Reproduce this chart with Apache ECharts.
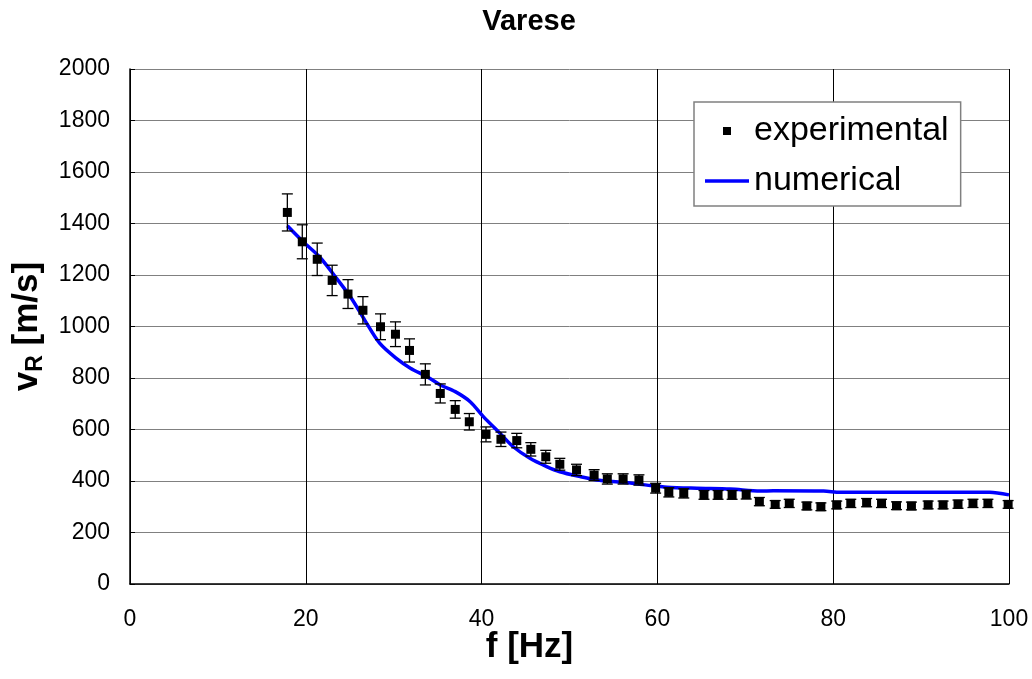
<!DOCTYPE html>
<html>
<head>
<meta charset="utf-8">
<script src="https://cdn.jsdelivr.net/npm/echarts@6/dist/echarts.min.js"></script>
<style>html,body{margin:0;padding:0;background:#fff}#c{width:1032px;height:679px}</style>
</head>
<body>
<div id="c"></div>
<script>
// Experimental points: frequency [Hz], velocity [m/s], error half-width [m/s]
var expF = [17.9,19.6,21.3,23.0,24.8,26.5,28.5,30.2,31.8,33.6,35.3,37.0,38.6,40.5,42.2,44.0,45.6,47.3,48.9,50.8,52.8,54.3,56.1,57.9,59.8,61.3,63.0,65.3,66.9,68.5,70.1,71.6,73.4,75.0,77.0,78.6,80.4,82.0,83.8,85.5,87.2,88.9,90.8,92.5,94.2,95.9,97.6,99.9];
var expV = [1443,1329,1261,1179,1126,1063,999,970,907,814,740,678,630,581,562,557,523,494,465,443,423,408,408,404,372,356,352,346,346,346,347,320,309,313,303,300,307,313,316,313,304,303,307,307,310,313,313,309];
var expErr = [72,66,63,59,56,53,50,48,45,41,37,34,32,29,28,28,26,25,23,22,21,20,20,20,19,18,18,17,17,17,17,16,15,16,15,15,15,16,16,16,15,15,15,15,16,16,16,15];
// Numerical curve
var numF = [17.9,19.7,21.6,23.5,25.2,26.7,28.4,30.3,31.9,33.8,35.3,37.0,38.7,40.2,42.1,43.6,45.5,47.4,48.9,51.2,53.1,56.1,58.8,61.1,64.5,68.3,71.7,73.2,78.9,80.8,88.4,97.8,100];
var numV = [1391,1329,1269,1187,1109,1025,935,876,838,805,773,747,708,650,585,533,488,456,436,417,404,395,384,376,372,369,361,362,361,356,356,356,346];
var xTicks = [0,20,40,60,80,100];
var yTicks = [0,200,400,600,800,1000,1200,1400,1600,1800,2000];

var FONT = "'Liberation Sans', Arial, Helvetica, sans-serif";
var expData = expF.map(function(f,i){return [f, expV[i]];});
var errData = expF.map(function(f,i){return [f, expV[i]-expErr[i], expV[i]+expErr[i]];});
var numData = numF.map(function(f,i){return [f, numV[i]];});

var chart = echarts.init(document.getElementById('c'), null, {renderer:'canvas'});
chart.setOption({
  animation: false,
  backgroundColor: '#ffffff',
  textStyle: {fontFamily: FONT},
  title: {
    text: 'Varese', left: 529, top: 7, textAlign: 'center', padding: 0,
    textStyle: {fontSize: 29, fontWeight: 'bold', color: '#000', fontFamily: FONT}
  },
  grid: {left: 130, right: 23, top: 69, bottom: 95, containLabel: false},
  legend: {
    orient: 'vertical', left: 694, top: 102,
    padding: [9, 12, 5, 11],
    backgroundColor: '#fff', borderColor: '#808080', borderWidth: 1.5, borderRadius: 0,
    itemWidth: 44, itemHeight: 16, itemGap: 10,
    textStyle: {fontSize: 34, color: '#000', fontFamily: FONT, lineHeight: 40},
    data: [
      {name: 'experimental', icon: 'path://M0,0M44,16M18,4h8v8h-8z', itemStyle: {color: '#000', opacity: 1}},
      {name: 'numerical', icon: 'path://M0,0M44,16M0,6.3h44v3.4h-44z', itemStyle: {color: '#0000ff'}}
    ]
  },
  xAxis: {
    type: 'value', min: xTicks[0], max: xTicks[xTicks.length-1], interval: 20,
    name: 'f [Hz]', nameLocation: 'middle', nameGap: 46, nameMoveOverlap: false,
    nameTextStyle: {fontSize: 35, fontWeight: 'bold', color: '#000', fontFamily: FONT, padding: [0, 80, 0, 0]},
    axisLine: {show: true, lineStyle: {color: '#000', width: 1.5}},
    axisTick: {show: true, inside: true, length: 5, lineStyle: {color: '#000'}},
    axisLabel: {fontSize: 23, color: '#000', margin: 24, fontFamily: FONT, formatter: function(v){return String(v);}},
    splitLine: {show: true, lineStyle: {color: '#000', width: 1}}
  },
  yAxis: {
    type: 'value', min: yTicks[0], max: yTicks[yTicks.length-1], interval: 200,
    name: '{a|v}{s|R}{a| [m/s]}', nameLocation: 'middle', nameGap: 83, nameRotate: 90, nameMoveOverlap: false,
    nameTextStyle: {
      color: '#000', fontFamily: FONT,
      rich: {
        a: {fontSize: 35, fontWeight: 'bold', color: '#000', fontFamily: FONT, lineHeight: 40},
        s: {fontSize: 23, fontWeight: 'bold', color: '#000', fontFamily: FONT, lineHeight: 23, verticalAlign: 'bottom'}
      }
    },
    axisLine: {show: true, lineStyle: {color: '#000', width: 1.5}},
    axisTick: {show: true, inside: true, length: 5, lineStyle: {color: '#000'}},
    axisLabel: {fontSize: 23, color: '#000', margin: 20, fontFamily: FONT, formatter: function(v){return String(v);}},
    splitLine: {show: true, lineStyle: {color: '#808080', width: 1}}
  },
  series: [
    {
      name: 'numerical', type: 'line', data: numData, smooth: 0.3,
      showSymbol: false, symbol: 'none',
      lineStyle: {color: '#0000ff', width: 3.5}, itemStyle: {color: '#0000ff'}, z: 2
    },
    {
      name: 'errbars', type: 'custom', data: errData, z: 3, silent: true,
      renderItem: function(params, api) {
        var x = api.value(0);
        var lo = api.coord([x, api.value(1)]);
        var hi = api.coord([x, api.value(2)]);
        var hw = 5.5;
        var st = {stroke: '#000', lineWidth: 1.3};
        return {type: 'group', children: [
          {type: 'line', shape: {x1: lo[0], y1: lo[1], x2: hi[0], y2: hi[1]}, style: st},
          {type: 'line', shape: {x1: lo[0]-hw, y1: lo[1], x2: lo[0]+hw, y2: lo[1]}, style: st},
          {type: 'line', shape: {x1: hi[0]-hw, y1: hi[1], x2: hi[0]+hw, y2: hi[1]}, style: st}
        ]};
      }
    },
    {
      name: 'experimental', type: 'scatter', data: expData,
      symbol: 'rect', symbolSize: 9, itemStyle: {color: '#000', opacity: 1}, z: 4
    }
  ]
});
</script>
</body>
</html>
